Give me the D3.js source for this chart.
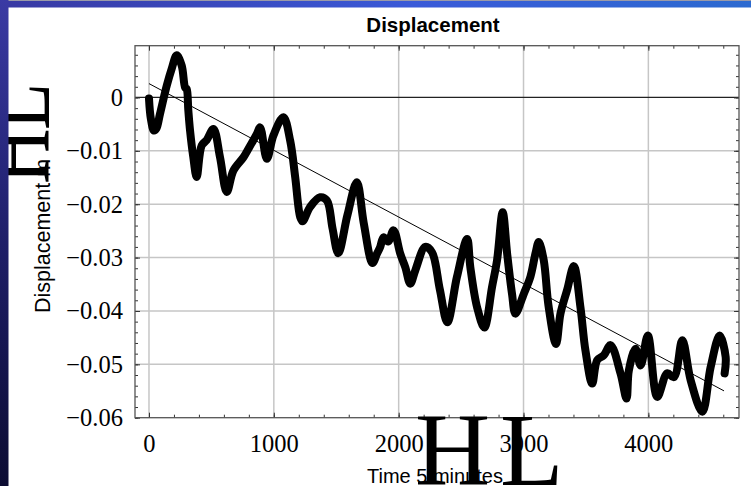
<!DOCTYPE html>
<html>
<head>
<meta charset="utf-8">
<script src="https://cdn.jsdelivr.net/npm/d3@7"></script>
<style>
  body { margin: 0; background: #fff; }
  svg { display: block; }
</style>
</head>
<body>
<svg id="chart" width="751" height="486"></svg>
<script>
// values
var timeSteps = [0, 15, 40, 60, 88, 142, 182, 222, 262, 289, 302, 315, 329, 355, 382,
    422, 462, 516, 569, 623, 676, 757, 797, 864, 890, 944, 997, 1077, 1131, 1171,
    1211, 1230, 1291, 1371, 1425, 1470, 1516, 1590, 1665, 1720, 1790, 1826, 1852,
    1879, 1915, 1959, 2013, 2053, 2093, 2133, 2213, 2267, 2330, 2390, 2467, 2548,
    2574, 2628, 2686, 2748, 2788, 2833, 2869, 2908, 2935, 3002, 3055, 3095, 3122,
    3162, 3200, 3260, 3296, 3350, 3403, 3456, 3496, 3550, 3590, 3643, 3697, 3777,
    3825, 3844, 3897, 3938, 3996, 4071, 4151, 4205, 4272, 4339, 4432, 4499, 4571,
    4619, 4611];
var displacement = [-0.0002, -0.0040, -0.0062, -0.0058, -0.0031, 0.0022, 0.0054, 0.0079,
    0.0060, 0.0019, 0.0016, -0.0024, -0.0062, -0.0112, -0.0149,
    -0.0090, -0.0080, -0.0059, -0.0112, -0.0177, -0.0137, -0.0112, -0.0096, -0.0068,
    -0.0056, -0.0115, -0.0071, -0.0037, -0.0081, -0.0149,
    -0.0224, -0.0232, -0.0205, -0.0187, -0.0193, -0.0245, -0.0292, -0.0220, -0.0159,
    -0.0235, -0.0310, -0.0293, -0.0280,
    -0.0262, -0.0270, -0.0249, -0.0293, -0.0318, -0.0349, -0.0324, -0.0280, -0.0290,
    -0.0360, -0.0421, -0.0336, -0.0265,
    -0.0318, -0.0393, -0.0431, -0.0355, -0.0305, -0.0215, -0.0293, -0.0368, -0.0405,
    -0.0368, -0.0336, -0.0293, -0.0271,
    -0.0305, -0.0390, -0.0462, -0.0405, -0.0360, -0.0316, -0.0393, -0.0474, -0.0536,
    -0.0492, -0.0483, -0.0464, -0.0517,
    -0.0564, -0.0511, -0.0471, -0.0502, -0.0446, -0.0561, -0.0517, -0.0524, -0.0455,
    -0.0530, -0.0589, -0.0505, -0.0446,
    -0.0486, -0.0517];

var fitIntercept = 0.0026;
var fitSlope = -0.0000125;
var fitRange = [0, 4606];

var xTicks = [0, 1000, 2000, 3000, 4000];
var yTicks = [0, -0.01, -0.02, -0.03, -0.04, -0.05, -0.06];
var yTickLabels = ['0', '\u22120.01', '\u22120.02', '\u22120.03', '\u22120.04', '\u22120.05', '\u22120.06'];

var svg = d3.select('#chart');
var plotLeft = 135, plotRight = 739, plotTop = 45.7, plotBottom = 417.7;

var x = d3.scaleLinear().domain([-112, 4726]).range([plotLeft, plotRight]);
var y = d3.scaleLinear().domain([-0.06, 0.0097]).range([plotBottom, plotTop]);

svg.append('rect').attr('width', 751).attr('height', 486).attr('fill', '#fff');

// grid
svg.append('g').selectAll('line').data(xTicks).enter().append('line')
    .attr('x1', function(d) { return x(d); }).attr('x2', function(d) { return x(d); })
    .attr('y1', plotTop).attr('y2', plotBottom)
    .attr('stroke', '#c6c6c6').attr('stroke-width', 1.5);
svg.append('g').selectAll('line').data(yTicks.slice(1, -1)).enter().append('line')
    .attr('y1', function(d) { return y(d); }).attr('y2', function(d) { return y(d); })
    .attr('x1', plotLeft).attr('x2', plotRight)
    .attr('stroke', '#c6c6c6').attr('stroke-width', 1.5);

// zero axis
svg.append('line')
    .attr('x1', plotLeft).attr('x2', plotRight).attr('y1', y(0)).attr('y2', y(0))
    .attr('stroke', '#222').attr('stroke-width', 1.2);

// data trace
var points = timeSteps.map(function(t, i) { return [t, displacement[i]]; });
var line = d3.line()
    .x(function(d) { return x(d[0]); })
    .y(function(d) { return y(d[1]); })
    .curve(d3.curveCatmullRom.alpha(0.5));

svg.append('path')
    .datum(points)
    .attr('d', line)
    .attr('fill', 'none')
    .attr('stroke', '#000')
    .attr('stroke-width', 8)
    .attr('stroke-linejoin', 'round')
    .attr('stroke-linecap', 'round');

// linear fit
svg.append('path')
    .datum(fitRange)
    .attr('d', d3.line()
        .x(function(d) { return x(d); })
        .y(function(d) { return y(fitIntercept + fitSlope * d); }))
    .attr('stroke', '#000')
    .attr('stroke-width', 1);

// frame + ticks
var minorX = d3.range(0, 4727, 200);
var minorY = d3.range(-0.06, 0.0098, 0.002);

function frameAxis(axis, tr) {
    var g = svg.append('g').attr('transform', tr).call(axis);
    g.select('.domain').remove();
    g.selectAll('line').attr('stroke', '#333');
    return g;
}

frameAxis(d3.axisBottom(x).tickValues(minorX).tickSize(-3).tickFormat(''), 'translate(0,' + plotBottom + ')');
frameAxis(d3.axisTop(x).tickValues(minorX).tickSize(-3).tickFormat(''), 'translate(0,' + plotTop + ')');
frameAxis(d3.axisLeft(y).tickValues(minorY).tickSize(-3).tickFormat(''), 'translate(' + plotLeft + ',0)');
frameAxis(d3.axisRight(y).tickValues(minorY).tickSize(-3).tickFormat(''), 'translate(' + plotRight + ',0)');
frameAxis(d3.axisTop(x).tickValues(xTicks).tickSize(-5).tickFormat(''), 'translate(0,' + plotTop + ')');
frameAxis(d3.axisRight(y).tickValues(yTicks).tickSize(-5).tickFormat(''), 'translate(' + plotRight + ',0)');

var xAxis = frameAxis(d3.axisBottom(x).tickValues(xTicks).tickSize(-5).tickPadding(17)
    .tickFormat(d3.format('d')), 'translate(0,' + plotBottom + ')');
var yAxis = frameAxis(d3.axisLeft(y).tickValues(yTicks).tickSize(-5).tickPadding(12)
    .tickFormat(function(d, i) { return yTickLabels[i]; }), 'translate(' + plotLeft + ',0)');
[xAxis, yAxis].forEach(function(g) {
    g.selectAll('text')
        .attr('font-family', '"Liberation Serif", "Times New Roman", serif')
        .attr('font-size', 24.5)
        .attr('fill', '#000');
});

svg.append('rect')
    .attr('x', plotLeft).attr('y', plotTop)
    .attr('width', plotRight - plotLeft).attr('height', plotBottom - plotTop)
    .attr('fill', 'none').attr('stroke', '#555').attr('stroke-width', 1.3);

// titles
svg.append('text')
    .attr('x', 433).attr('y', 32)
    .attr('text-anchor', 'middle')
    .attr('font-family', '"Liberation Sans", Arial, sans-serif')
    .attr('font-weight', 'bold')
    .attr('font-size', 20.5)
    .text('Displacement');

svg.append('text')
    .attr('x', 367).attr('y', 483.3)
    .attr('font-family', '"Liberation Sans", Arial, sans-serif')
    .attr('font-size', 20)
    .text('Time  5 minutes');

svg.append('text')
    .attr('transform', 'translate(50,313) rotate(-90)')
    .attr('font-family', '"Liberation Sans", Arial, sans-serif')
    .attr('font-size', 21.5)
    .text('Displacement m');

// oversized bracket glyphs
var big = '"Liberation Serif", "Times New Roman", serif';
svg.append('text').attr('x', 415).attr('y', 485)
    .attr('font-family', big).attr('font-size', 104).text('H');
svg.append('text').attr('x', 500).attr('y', 485)
    .attr('font-family', big).attr('font-size', 104).text('L');
svg.append('text').attr('transform', 'translate(49,184) rotate(-90) scale(1,1.35)')
    .attr('font-family', big).attr('font-size', 77).text('H');
svg.append('text').attr('transform', 'translate(49,130) rotate(-90) scale(1,1.35)')
    .attr('font-family', big).attr('font-size', 77).text('L');

// slide border
var defs = svg.append('defs');
var gTop = defs.append('linearGradient').attr('id', 'gtop');
gTop.append('stop').attr('offset', '0%').attr('stop-color', '#3838a2');
gTop.append('stop').attr('offset', '55%').attr('stop-color', '#3a5ad8');
gTop.append('stop').attr('offset', '100%').attr('stop-color', '#2c6ad0');
var gLeft = defs.append('linearGradient').attr('id', 'gleft')
    .attr('x1', 0).attr('y1', 0).attr('x2', 0).attr('y2', 1);
gLeft.append('stop').attr('offset', '0%').attr('stop-color', '#3a3aa4');
gLeft.append('stop').attr('offset', '50%').attr('stop-color', '#1e1e68');
gLeft.append('stop').attr('offset', '100%').attr('stop-color', '#0c0c32');

svg.append('rect').attr('x', 0).attr('y', 0).attr('width', 751).attr('height', 7.5)
    .attr('fill', 'url(#gtop)');
svg.append('rect').attr('x', 0).attr('y', 0).attr('width', 751).attr('height', 1)
    .attr('fill', '#9a9aa8');
svg.append('rect').attr('x', 0).attr('y', 0).attr('width', 8.5).attr('height', 486)
    .attr('fill', 'url(#gleft)');
</script>
</body>
</html>
